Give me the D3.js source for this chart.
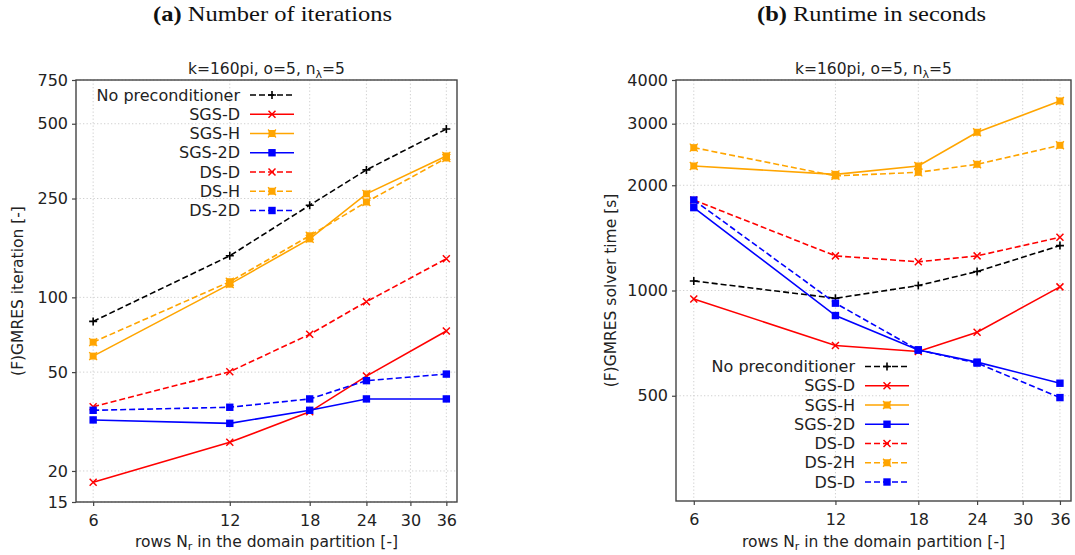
<!DOCTYPE html>
<html>
<head>
<meta charset="utf-8">
<script src="https://cdn.jsdelivr.net/npm/d3@7"></script>
<style>
  body { margin: 0; background: #fff; }
  svg { display: block; }
</style>
</head>
<body>
<div id="chart"></div>
<script>
// x values: rows N_r in the domain partition
const rows = [6, 12, 18, 24, 36];
const xTicks = [6, 12, 18, 24, 30, 36];

// (a) number of iterations
const iterNoPrec = [80, 147, 235, 326, 476];
const iterSgsD = [18, 26.1, 34.6, 48.2, 73.2];
const iterSgsH = [58, 113, 172, 261, 371];
const iterSgs2D = [32.1, 31.1, 35.1, 39, 39];
const iterDsD = [36.3, 50.2, 71, 96, 143];
const iterDsH = [66, 115.6, 177, 242, 364];
const iterDs2D = [35.1, 36.1, 39, 46.2, 49.1];
const iterTicks = [15, 20, 50, 100, 250, 500, 750];
const iterLabels = ["No preconditioner", "SGS-D", "SGS-H", "SGS-2D", "DS-D", "DS-H", "DS-2D"];

// (b) runtime in seconds
const timeNoPrec = [1065, 950, 1033, 1133, 1344];
const timeSgsD = [946, 696, 669, 760, 1024];
const timeSgsH = [2271, 2149, 2271, 2835, 3484];
const timeSgs2D = [1726, 848, 676, 624, 543];
const timeDsD = [1815, 1256, 1208, 1256, 1420];
const timeDsH = [2562, 2127, 2178, 2296, 2602];
const timeDs2D = [1815, 920, 676, 620, 494];
const timeTicks = [500, 1000, 2000, 3000, 4000];
const timeLabels = ["No preconditioner", "SGS-D", "SGS-H", "SGS-2D", "DS-D", "DS-2H", "DS-D"];

// style for each series, same order in both panels
const styles = [
  {color: "#000000", dash: true,  marker: "plus"},
  {color: "#ff0000", dash: false, marker: "x"},
  {color: "#ffa500", dash: false, marker: "sqx"},
  {color: "#0000ff", dash: false, marker: "square"},
  {color: "#ff0000", dash: true,  marker: "x"},
  {color: "#ffa500", dash: true,  marker: "sqx"},
  {color: "#0000ff", dash: true,  marker: "square"}
];

const W = 1075, H = 555;
const FONT = "'DejaVu Sans', sans-serif";
const DASH = "6,3";

const svg = d3.select("#chart").append("svg")
  .attr("width", W).attr("height", H)
  .style("background", "white");

function drawMarker(g, type, x, y, color) {
  if (type === "plus") {
    g.append("path").attr("d", `M${x-4},${y}H${x+4}M${x},${y-4}V${y+4}`)
      .attr("stroke", color).attr("stroke-width", 1.6);
  } else if (type === "x") {
    g.append("path").attr("d", `M${x-3.5},${y-3.5}L${x+3.5},${y+3.5}M${x-3.5},${y+3.5}L${x+3.5},${y-3.5}`)
      .attr("stroke", color).attr("stroke-width", 1.5);
  } else if (type === "sqx") {
    g.append("rect").attr("x", x-3.5).attr("y", y-3.5).attr("width", 7).attr("height", 7)
      .attr("fill", color);
    g.append("path").attr("d", `M${x-4},${y-4}L${x+4},${y+4}M${x-4},${y+4}L${x+4},${y-4}`)
      .attr("stroke", color).attr("stroke-width", 1.2);
  } else {
    g.append("rect").attr("x", x-3.7).attr("y", y-3.7).attr("width", 7.4).attr("height", 7.4)
      .attr("fill", color);
  }
}

function panel(opt) {
  const {left, right, top, bottom} = opt;
  const g = svg.append("g");

  const x = d3.scaleLog().domain([5.5, 38]).range([left, right]);
  const y = d3.scaleLog().domain(opt.yDomain).range([bottom, top]);

  // grid
  g.append("g").selectAll("line").data(xTicks).join("line")
    .attr("x1", d => x(d)).attr("x2", d => x(d))
    .attr("y1", top).attr("y2", bottom)
    .attr("stroke", "#d0d0d0").attr("stroke-width", 1)
    .attr("stroke-dasharray", "1.3,2.2");
  g.append("g").selectAll("line").data(opt.yTicks).join("line")
    .attr("x1", left).attr("x2", right)
    .attr("y1", d => y(d)).attr("y2", d => y(d))
    .attr("stroke", "#d0d0d0").attr("stroke-width", 1)
    .attr("stroke-dasharray", "1.3,2.2");

  // axes
  const xAxis = d3.axisBottom(x).tickValues(xTicks).tickFormat(d3.format("d"))
    .tickSize(4).tickPadding(9).tickSizeOuter(0);
  const yAxis = d3.axisLeft(y).tickValues(opt.yTicks).tickFormat(d3.format("d"))
    .tickSize(4).tickPadding(4).tickSizeOuter(0);

  const gx = g.append("g").attr("transform", `translate(0,${bottom})`).call(xAxis);
  const gy = g.append("g").attr("transform", `translate(${left},0)`).call(yAxis);
  [gx, gy].forEach(a => {
    a.select(".domain").remove();
    a.selectAll(".tick line").attr("stroke", "#444").attr("stroke-width", 1.2);
    a.selectAll(".tick text").attr("fill", "#222")
      .style("font-family", FONT).style("font-size", "16px");
  });

  // series
  opt.series.forEach((vals, i) => {
    const st = styles[i];
    const line = d3.line().x((d, j) => x(rows[j])).y(d => y(d));
    g.append("path").datum(vals)
      .attr("d", line)
      .attr("fill", "none")
      .attr("stroke", st.color)
      .attr("stroke-width", 1.6)
      .attr("stroke-dasharray", st.dash ? DASH : null);
    const mg = g.append("g");
    vals.forEach((v, j) => drawMarker(mg, st.marker, x(rows[j]), y(v), st.color));
  });

  // frame
  g.append("rect").attr("x", left).attr("y", top)
    .attr("width", right - left).attr("height", bottom - top)
    .attr("fill", "none").attr("stroke", "#444").attr("stroke-width", 1.4);

  // legend
  opt.labels.forEach((lab, i) => {
    const st = styles[i];
    const ly = opt.legY + i * 19.25;
    g.append("text").attr("x", opt.legX).attr("y", ly)
      .attr("text-anchor", "end").attr("dominant-baseline", "central")
      .attr("fill", "#222")
      .style("font-family", FONT).style("font-size", "16px")
      .text(lab);
    g.append("line")
      .attr("x1", opt.legX + 10).attr("x2", opt.legX + 54)
      .attr("y1", ly).attr("y2", ly)
      .attr("stroke", st.color).attr("stroke-width", 1.6)
      .attr("stroke-dasharray", st.dash ? DASH : null);
    drawMarker(g, st.marker, opt.legX + 32, ly, st.color);
  });

  const cx = (left + right) / 2;

  // subtitle
  const sub = g.append("text").attr("x", cx).attr("y", 73.5)
    .attr("text-anchor", "middle").attr("fill", "#222")
    .style("font-family", FONT).style("font-size", "15.5px");
  sub.append("tspan").text("k=160pi, o=5, n");
  sub.append("tspan").attr("dy", 4).style("font-size", "11px").text("λ");
  sub.append("tspan").attr("dy", -4).text("=5");

  // panel title
  const t = g.append("text").attr("x", cx - 2 + opt.titleShift).attr("y", 21)
    .attr("text-anchor", "middle").attr("fill", "#111")
    .style("font-family", "'Liberation Serif', serif").style("font-size", "21px")
    .attr("textLength", opt.titleLen).attr("lengthAdjust", "spacingAndGlyphs");
  t.append("tspan").style("font-weight", "bold").text(opt.titleTag + " ");
  t.append("tspan").text(opt.title);

  // x label
  const xl = g.append("text").attr("x", cx).attr("y", 547)
    .attr("text-anchor", "middle").attr("fill", "#222")
    .style("font-family", FONT).style("font-size", "15.5px");
  xl.append("tspan").text("rows N");
  xl.append("tspan").attr("dy", 3).style("font-size", "11px").text("r");
  xl.append("tspan").attr("dy", -3).text(" in the domain partition [-]");

  // y label
  g.append("text")
    .attr("transform", `translate(${opt.yLabelX},${(top + bottom) / 2}) rotate(-90)`)
    .attr("text-anchor", "middle").attr("dominant-baseline", "central")
    .attr("fill", "#222")
    .style("font-family", FONT).style("font-size", "15.5px")
    .text(opt.yLabel);
}

panel({
  left: 76, right: 457, top: 80, bottom: 502,
  yDomain: [15, 750], yTicks: iterTicks,
  series: [iterNoPrec, iterSgsD, iterSgsH, iterSgs2D, iterDsD, iterDsH, iterDs2D],
  labels: iterLabels, legX: 240, legY: 95,
  titleTag: "(a)", title: "Number of iterations", titleLen: 239, titleShift: 8,
  yLabel: "(F)GMRES iteration [-]", yLabelX: 18
});

panel({
  left: 676, right: 1071, top: 80, bottom: 501,
  yDomain: [250, 4000], yTicks: timeTicks,
  series: [timeNoPrec, timeSgsD, timeSgsH, timeSgs2D, timeDsD, timeDsH, timeDs2D],
  labels: timeLabels, legX: 855, legY: 366.5,
  titleTag: "(b)", title: "Runtime in seconds", titleLen: 229, titleShift: 0,
  yLabel: "(F)GMRES solver time [s]", yLabelX: 611
});
</script>
</body>
</html>
